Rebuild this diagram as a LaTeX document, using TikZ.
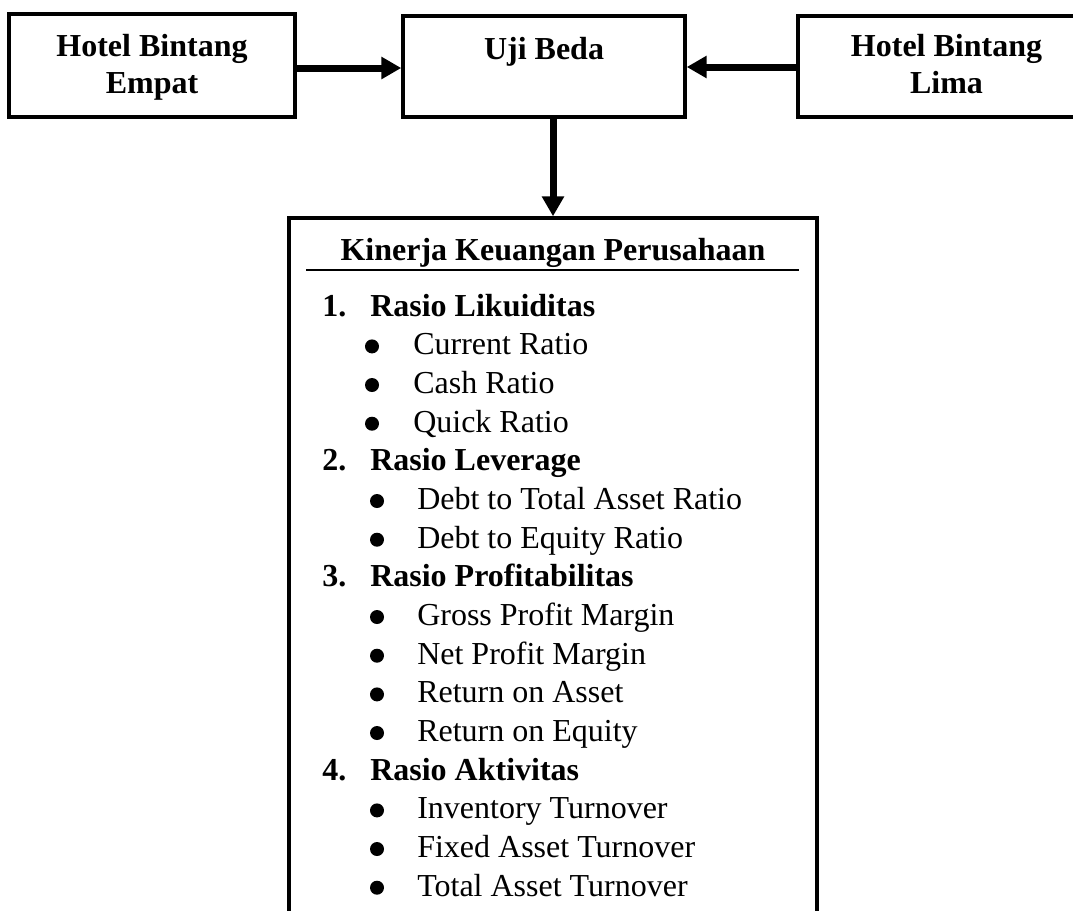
\documentclass[tikz,border=0pt]{standalone}
\usepackage{fontspec}
\setmainfont{Liberation Serif}
\usetikzlibrary{arrows.meta}
\begin{document}
\begin{tikzpicture}[x=0.75pt,y=-0.75pt,
  box/.style={draw, line width=2.6pt, inner sep=0pt, rectangle},
  txt/.style={font=\fontsize{24}{29}\selectfont, inner sep=0pt, anchor=base},
  btxt/.style={font=\fontsize{24}{29}\selectfont\bfseries, inner sep=0pt, anchor=base},
  itemtxt/.style={txt, anchor=base west},
  headtxt/.style={btxt, anchor=base west},
  bul/.style={circle, fill=black, minimum size=10.5pt, inner sep=0pt},
  arr/.style={line width=5.25pt, -{Triangle[length=15pt,width=16pt]}}]
\useasboundingbox (0,0) rectangle (1073,910);
\clip (0,0) rectangle (1073,910);

% top boxes
\node[box, minimum width=286*0.75pt, minimum height=103*0.75pt] (lb) at (152,65.5) {};
\node[btxt] (lt1) at (152,56) {Hotel Bintang};
\node[btxt] (lt2) at (152,93) {Empat};

\node[box, minimum width=282*0.75pt, minimum height=101*0.75pt] (mb) at (544,66.5) {};
\node[btxt] (mt) at (544,59) {Uji Beda};

\node[box, minimum width=297*0.75pt, minimum height=101*0.75pt] (rb) at (946.5,66.5) {};
\node[btxt] (rt1) at (946.5,56) {Hotel Bintang};
\node[btxt] (rt2) at (946.5,93) {Lima};

% big box
\node[box, minimum width=528*0.75pt, minimum height=742*0.75pt] (kb) at (553,589) {};

% connectors
\coordinate (ya) at (0,68);
\coordinate (yb) at (0,67);
\draw[arr] (lb.east |- ya) -- (mb.west |- ya);
\draw[arr] (rb.west |- yb) -- (mb.east |- yb);
\draw[arr] (mb.south -| kb.north) -- (kb.north);

% title
\node[btxt] (title) at (553,260) {Kinerja Keuangan Perusahaan};
\coordinate (ul1) at (306,270);
\coordinate (ul2) at (799,270);
\draw[line width=2pt] (ul1) -- (ul2);

% list
\node[headtxt] (n1) at (322,316) {1.};
\node[headtxt] (h1) at (370,316) {Rasio Likuiditas};
\node[bul] (b11) at (372,346.4) {};
\node[itemtxt] (i11) at (413,354.7) {Current Ratio};
\node[bul] (b12) at (372,385.0) {};
\node[itemtxt] (i12) at (413,393.3) {Cash Ratio};
\node[bul] (b13) at (372,423.7) {};
\node[itemtxt] (i13) at (413,432) {Quick Ratio};

\node[headtxt] (n2) at (322,470.7) {2.};
\node[headtxt] (h2) at (370,470.7) {Rasio Leverage};
\node[bul] (b21) at (377,501.0) {};
\node[itemtxt] (i21) at (417,509.3) {Debt to Total Asset Ratio};
\node[bul] (b22) at (377,539.7) {};
\node[itemtxt] (i22) at (417,548) {Debt to Equity Ratio};

\node[headtxt] (n3) at (322,586.7) {3.};
\node[headtxt] (h3) at (370,586.7) {Rasio Profitabilitas};
\node[bul] (b31) at (377,617.0) {};
\node[itemtxt] (i31) at (417,625.3) {Gross Profit Margin};
\node[bul] (b32) at (377,655.7) {};
\node[itemtxt] (i32) at (417,664) {Net Profit Margin};
\node[bul] (b33) at (377,694.4) {};
\node[itemtxt] (i33) at (417,702.7) {Return on Asset};
\node[bul] (b34) at (377,733.0) {};
\node[itemtxt] (i34) at (417,741.3) {Return on Equity};

\node[headtxt] (n4) at (322,780) {4.};
\node[headtxt] (h4) at (370,780) {Rasio Aktivitas};
\node[bul] (b41) at (377,810.4) {};
\node[itemtxt] (i41) at (417,818.7) {Inventory Turnover};
\node[bul] (b42) at (377,849.0) {};
\node[itemtxt] (i42) at (417,857.3) {Fixed Asset Turnover};
\node[bul] (b43) at (377,887.7) {};
\node[itemtxt] (i43) at (417,896) {Total Asset Turnover};
\end{tikzpicture}
\end{document}
